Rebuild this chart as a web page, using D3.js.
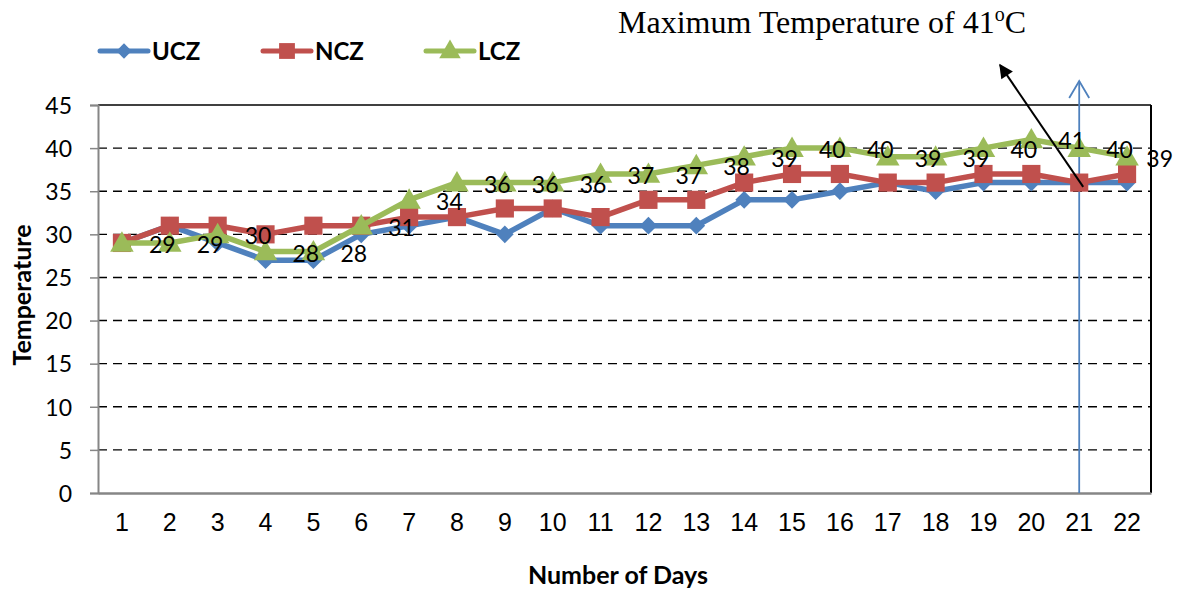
<!DOCTYPE html>
<html>
<head>
<meta charset="utf-8">
<script src="https://cdn.jsdelivr.net/npm/d3@7"></script>
<style>
  html, body { margin: 0; padding: 0; background: #ffffff; }
  svg { display: block; }
</style>
</head>
<body>
<div id="chart"></div>
<script>
// Daily maximum temperature in three climatic zones
const days = ["1","2","3","4","5","6","7","8","9","10","11","12","13","14","15","16","17","18","19","20","21","22"];
const ucz = [29,31,29,27,27,30,31,32,30,33,31,31,31,34,34,35,36,35,36,36,36,36];
const ncz = [29,31,31,30,31,31,32,32,33,33,32,34,34,36,37,37,36,36,37,37,36,37];
const lcz = [29,29,30,28,28,31,34,36,36,36,37,37,38,39,40,40,39,39,40,41,40,39];
const yTicks = [0,5,10,15,20,25,30,35,40,45];
const seriesNames = ["UCZ","NCZ","LCZ"];
const peakDay = "21";

const W = 1185, H = 592;
const margin = {left: 98, right: 34, top: 105, bottom: 99};
const iw = W - margin.left - margin.right;
const ih = H - margin.top - margin.bottom;

const colors = {UCZ: "#4F81BD", NCZ: "#C0504D", LCZ: "#9BBB59"};
const series = [
  {name: "UCZ", values: ucz, shape: d3.symbolDiamond2},
  {name: "NCZ", values: ncz, shape: d3.symbolSquare},
  {name: "LCZ", values: lcz, shape: d3.symbolTriangle}
];

const sansFont = "Lato, 'Open Sans', sans-serif";

const svg = d3.select("#chart").append("svg")
  .attr("width", W).attr("height", H);

const x = d3.scaleBand().domain(days).range([0, iw]);
const y = d3.scaleLinear().domain([0, 45]).range([ih, 0]);
const cx = d => x(d) + x.bandwidth() / 2;

const g = svg.append("g").attr("transform", `translate(${margin.left},${margin.top})`);

// dashed horizontal gridlines
g.append("g").selectAll("line")
  .data(yTicks.filter(t => t > 0 && t < 45))
  .join("line")
  .attr("x1", 0).attr("x2", iw)
  .attr("y1", d => y(d)).attr("y2", d => y(d))
  .attr("stroke", "#000").attr("stroke-width", 1.4)
  .attr("stroke-dasharray", "9,6");

// frame: top and right edges
g.append("line").attr("x1", 0).attr("x2", iw).attr("y1", y(45)).attr("y2", y(45))
  .attr("stroke", "#000").attr("stroke-width", 1.6);
g.append("line").attr("x1", iw).attr("x2", iw).attr("y1", 0).attr("y2", ih)
  .attr("stroke", "#000").attr("stroke-width", 2);

// y axis
const yAxis = g.append("g").call(
  d3.axisLeft(y).tickValues(yTicks).tickSize(8).tickPadding(18).tickFormat(d3.format("d"))
);
yAxis.select(".domain").attr("stroke", "#868686").attr("stroke-width", 2);
yAxis.selectAll(".tick line").attr("stroke", "#868686").attr("stroke-width", 1.5);
yAxis.selectAll(".tick text")
  .attr("font-family", sansFont)
  .attr("font-size", 23).attr("fill", "#000")
  .attr("dy", "0.36em");

// x axis
const xAxis = g.append("g").attr("transform", `translate(0,${ih})`)
  .call(d3.axisBottom(x).tickSize(0).tickPadding(20));
xAxis.select(".domain").attr("stroke", "#868686").attr("stroke-width", 2.5);
xAxis.selectAll(".tick text")
  .attr("font-family", "'Liberation Sans', Arial, sans-serif")
  .attr("font-size", 25).attr("fill", "#000")
  .attr("dy", "0.71em");

// vertical marker on the peak day with open arrowhead
const px = cx(peakDay);
const arrowBlue = g.append("g").attr("stroke", "#4F81BD").attr("stroke-width", 1.8).attr("fill", "none");
arrowBlue.append("line").attr("x1", px).attr("x2", px).attr("y1", ih).attr("y2", -24);
arrowBlue.append("path")
  .attr("d", `M${px - 10},${-7} L${px},${-24} L${px + 10},${-7}`);

// series lines and markers
const line = d3.line().x((v, i) => cx(days[i])).y(v => y(v));
series.forEach(s => {
  const sg = g.append("g");
  sg.append("path").datum(s.values)
    .attr("d", line)
    .attr("fill", "none").attr("stroke", colors[s.name])
    .attr("stroke-width", 5.5).attr("stroke-linejoin", "round");
  const size = s.name === "UCZ" ? 200 : (s.name === "NCZ" ? 330 : 240);
  sg.selectAll("path.m").data(s.values).join("path")
    .attr("class", "m")
    .attr("d", d3.symbol().type(s.shape).size(size))
    .attr("transform", (v, i) => {
      const off = s.name === "LCZ" ? 2 : 0;
      return `translate(${cx(days[i])},${y(v) + off})`;
    })
    .attr("fill", colors[s.name]);
});

// value labels for LCZ
const labelLimit = W - margin.left - 12;
g.append("g").selectAll("text").data(lcz).join("text")
  .attr("x", (v, i) => cx(days[i]) + 27)
  .attr("y", v => y(v) + 10)
  .attr("font-family", sansFont)
  .attr("font-size", 23).attr("fill", "#000")
  .text(v => v)
  .each(function() {
    const b = this.getBBox();
    if (b.x + b.width > labelLimit) d3.select(this).attr("x", labelLimit - b.width);
  });

// annotation arrow pointing to the title
svg.append("defs").append("marker")
  .attr("id", "headBlack").attr("viewBox", "0 0 10 10")
  .attr("refX", 9).attr("refY", 5)
  .attr("markerWidth", 18).attr("markerHeight", 14)
  .attr("markerUnits", "userSpaceOnUse")
  .attr("orient", "auto")
  .append("path").attr("d", "M0,0 L10,5 L0,10 Z").attr("fill", "#000");

svg.append("line")
  .attr("x1", margin.left + px + 4).attr("y1", margin.top + y(35.5))
  .attr("x2", 1000).attr("y2", 65)
  .attr("stroke", "#000").attr("stroke-width", 2)
  .attr("marker-end", "url(#headBlack)");

// title text
const title = svg.append("text")
  .attr("x", 618).attr("y", 33)
  .attr("font-family", "'Liberation Serif', 'Times New Roman', serif")
  .attr("font-size", 32).attr("fill", "#000");
title.append("tspan").text("Maximum Temperature of 41");
title.append("tspan").attr("font-size", 20).attr("dy", -12).text("o");
title.append("tspan").attr("dy", 12).text("C");

// legend
const legend = svg.append("g");
const legendX = [100, 263, 426];
series.forEach((s, i) => {
  const lg = legend.append("g").attr("transform", `translate(${legendX[i]},51)`);
  lg.append("line").attr("x1", 0).attr("x2", 48).attr("y1", 0).attr("y2", 0)
    .attr("stroke", colors[s.name]).attr("stroke-width", 5).attr("stroke-linecap", "round");
  const size = s.name === "UCZ" ? 150 : (s.name === "NCZ" ? 250 : 200);
  lg.append("path").attr("d", d3.symbol().type(s.shape).size(size))
    .attr("transform", `translate(24,${s.name === "LCZ" ? 1 : 0})`)
    .attr("fill", colors[s.name]);
  lg.append("text").attr("x", 52).attr("y", 9)
    .attr("font-family", sansFont)
    .attr("font-weight", "bold").attr("font-size", 24).attr("fill", "#000")
    .text(seriesNames[i]);
});

// axis titles
svg.append("text")
  .attr("transform", `translate(31,${margin.top + ih / 2 - 4}) rotate(-90)`)
  .attr("text-anchor", "middle")
  .attr("font-family", sansFont)
  .attr("font-weight", "bold").attr("font-size", 25).attr("fill", "#000")
  .text("Temperature");
svg.append("text")
  .attr("x", 618).attr("y", 584)
  .attr("text-anchor", "middle")
  .attr("font-family", sansFont)
  .attr("font-weight", "bold").attr("font-size", 25).attr("fill", "#000")
  .text("Number of Days");
</script>
</body>
</html>
